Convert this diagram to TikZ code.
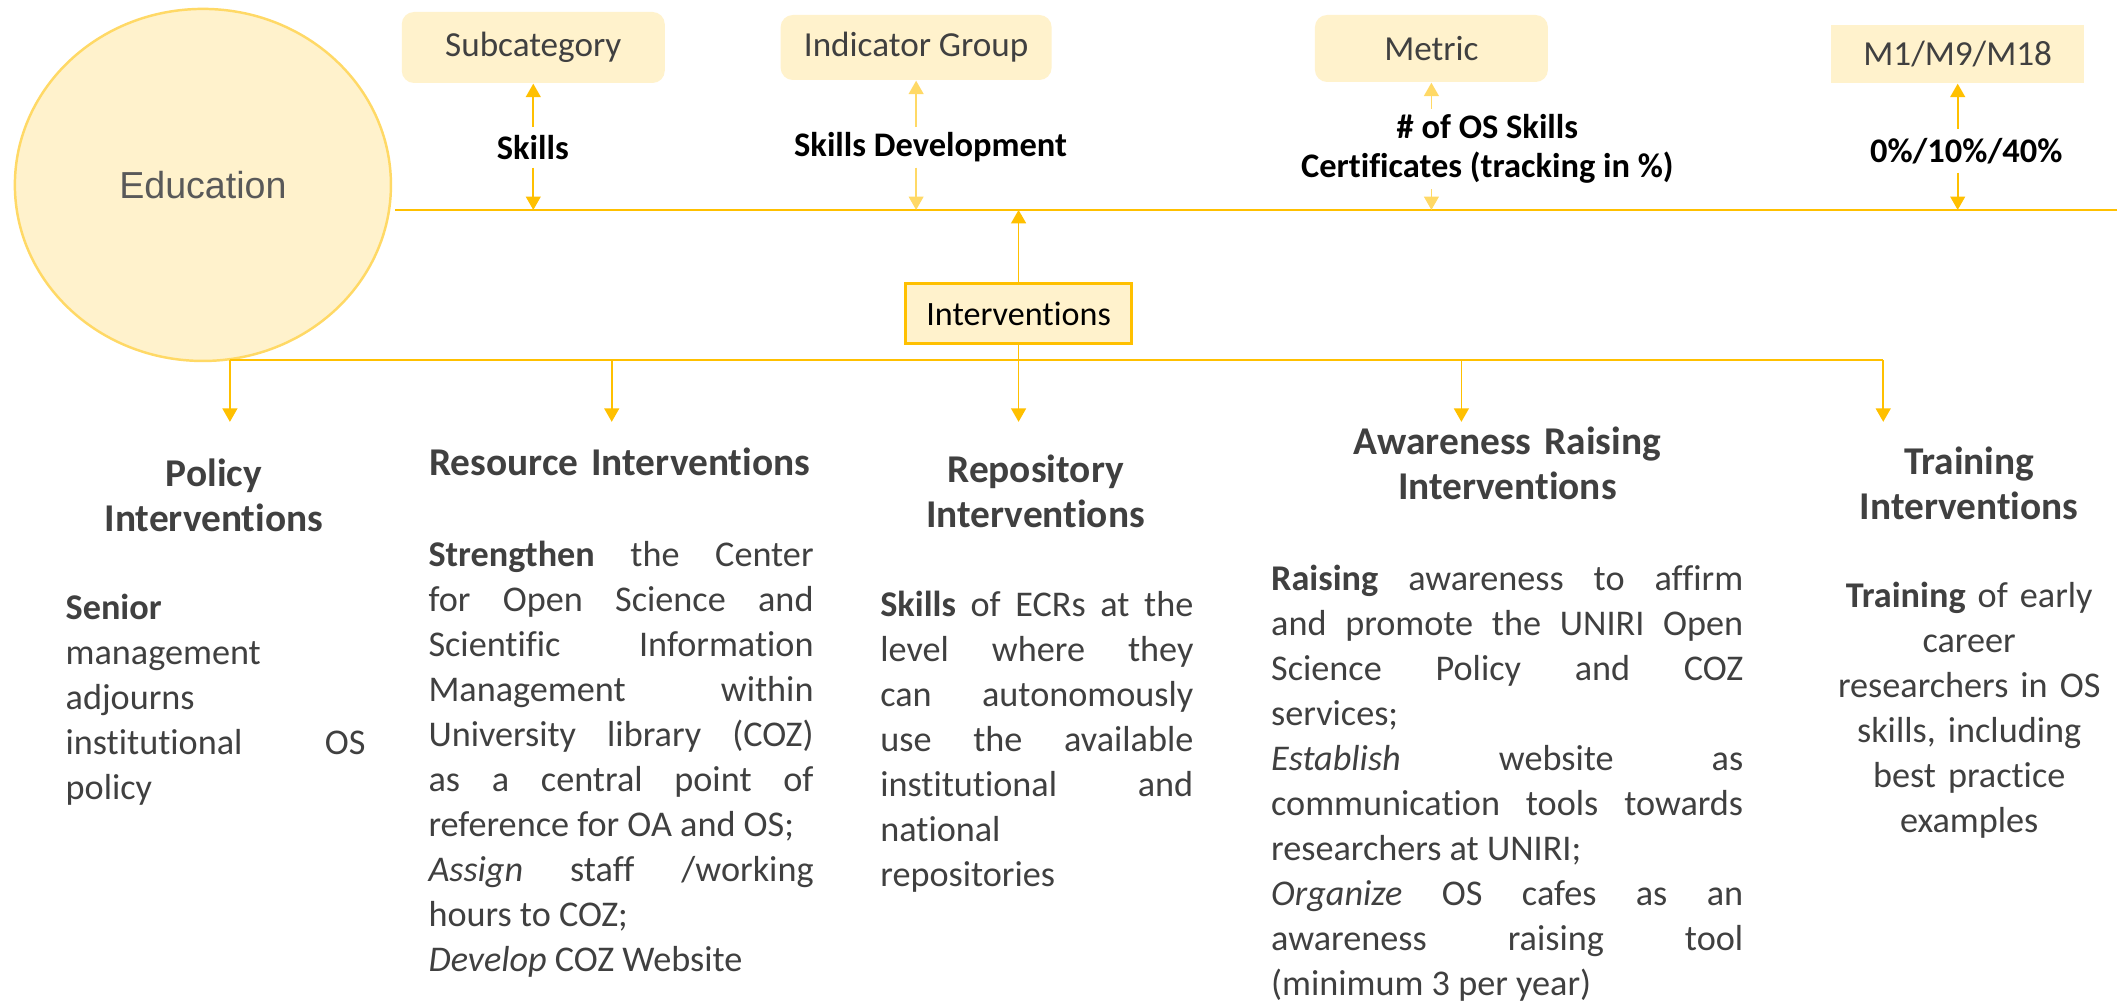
\documentclass[tikz,border=0pt]{standalone}
\usepackage{fontspec}
\setmainfont{Carlito}[Ligatures={NoCommon,NoDiscretionary,NoContextual}]
\newfontfamily\arialfont{Liberation Sans}
\usepackage{tikz}
\usetikzlibrary{arrows.meta}
\usetikzlibrary{shapes.geometric}
\definecolor{cream}{RGB}{255, 242, 204}
\definecolor{amber}{RGB}{255, 192, 0}
\definecolor{sand}{RGB}{255, 217, 102}
\definecolor{ink}{RGB}{64, 64, 64}
\definecolor{slate}{RGB}{89, 89, 89}

\begin{document}
\begin{tikzpicture}[x=0.01cm, y=-0.01cm,
    >={Triangle[length=3.8pt,width=4.2pt]},
    topbox/.style={fill=cream, rounded corners=3.5pt, inner sep=0pt, text=ink, font=\fontsize{10}{12}\selectfont},
    kpi/.style={font=\bfseries\fontsize{9.8}{11.1}\selectfont, inner sep=0pt, minimum height=0.39cm, align=center},
    head/.style={font=\bfseries\fontsize{11.2}{12.8}\selectfont, text=ink, inner sep=0pt, anchor=base, align=center},
    body/.style={font=\fontsize{10.3}{12.8}\selectfont, text=ink, inner sep=0pt, anchor=base west, align=justify},
    link/.style={amber, line width=0.5pt},
    softlink/.style={sand, line width=0.5pt}]
    \fill[white] (0,0) rectangle (2118,1002);

    % category and the header row
    \node[ellipse, fill=cream, draw=sand, line width=0.7pt, minimum width=3.76cm, minimum height=3.52cm,
          text=slate, font=\arialfont\fontsize{10.7}{12}\selectfont] (educ) at (203,185) {Education};
    \node[topbox, minimum width=2.63cm, minimum height=0.71cm] (subcat) at (533.5,47.5) {Subcategory};
    \node[topbox, minimum width=2.71cm, minimum height=0.65cm] (indgrp) at (916.5,47.5) {Indicator Group};
    \node[topbox, minimum width=2.33cm, minimum height=0.67cm] (metric) at (1432,48.5) {Metric};
    \node[topbox, rounded corners=0pt, minimum width=2.53cm, minimum height=0.58cm] (mstone) at (1958.5,54) {M1/M9/M18};

    \node[kpi] (skl) at (533,147.5) {Skills};
    \node[kpi] (skdev) at (931,147.5) {Skills Development};
    \node[kpi, minimum height=0.79cm] (osc) at (1488,149) {\# of OS Skills\\Certificates (tracking in \%)};
    \node[kpi, minimum height=0.42cm] (pct) at (1967,151) {0\%/10\%/40\%};

    \coordinate (mainL) at (395,210);
    \coordinate (mainR) at (2118,210);
    \draw[link] (mainL) -- (mainR);

    \draw[link,->]     (subcat.south |- skl.north)   -- (subcat.south);
    \draw[link,->]     (subcat.south |- skl.south)   -- (subcat.south |- mainL);
    \draw[softlink,->] (indgrp.south |- skdev.north) -- (indgrp.south);
    \draw[softlink,->] (indgrp.south |- skdev.south) -- (indgrp.south |- mainL);
    \draw[softlink,->] (metric.south |- osc.north)   -- (metric.south);
    \draw[softlink,->] (metric.south |- osc.south)   -- (metric.south |- mainL);
    \draw[link,->]     (mstone.south |- pct.north)   -- (mstone.south);
    \draw[link,->]     (mstone.south |- pct.south)   -- (mstone.south |- mainL);

    % interventions and the bus below
    \node[fill=cream, draw=amber, line width=0.8pt, inner sep=0pt, minimum width=2.26cm, minimum height=0.60cm,
          font=\fontsize{9.7}{11}\selectfont] (intv) at (1019,314) {Interventions};
    \draw[link,->] (intv.north) -- (intv.north |- mainL);

    \coordinate (busL) at (230,360);
    \coordinate (busR) at (1884,360);
    \draw[link] (busL) -- (busR);
    \draw[link] (intv.south) -- (intv.south |- busL);
    \foreach \x [count=\i] in {230,612,1019,1462,1884}
        \coordinate (drop\i) at (\x,422);
    \foreach \i in {1,...,5}
        \draw[link,->] (drop\i |- busL) -- (drop\i);

    \node[head, text width=3.0cm] (polHead) at (214,487)  {Policy\\Interventions};
    \node[head, text width=4.2cm] (resHead) at (620,476)  {Resource Interventions};
    \node[head, text width=3.2cm] (repHead) at (1036,483) {Repository\\Interventions};
    \node[head, text width=4.2cm] (awaHead) at (1508,455) {Awareness Raising\\Interventions};
    \node[head, text width=2.8cm] (traHead) at (1970,475) {Training\\Interventions};

    \node[body, text width=3.00cm] (polTxt) at (65,620)
        {\textbf{Senior}\newline management\newline adjourns\newline institutional OS\linebreak policy};
    \node[body, text width=3.85cm] (resTxt) at (428,567)
        {\textbf{Strengthen} the Center\linebreak for Open Science and\linebreak Scientific Information\linebreak
         Management within\linebreak University library (COZ)\linebreak as a central point of\linebreak
         reference for OA and OS;\newline \textit{Assign} staff /working\linebreak hours to COZ;\newline
         \textit{Develop} COZ Website};
    \node[body, text width=3.13cm] (repTxt) at (880,617)
        {\textbf{Skills} of ECRs at the\linebreak level where they\linebreak can autonomously\linebreak
         use the available\linebreak institutional and\linebreak national\newline repositories};
    \node[body, text width=4.72cm] (awaTxt) at (1271,591)
        {\textbf{Raising} awareness to affirm\linebreak and promote the UNIRI Open\linebreak Science Policy and COZ\linebreak
         services;\newline \textit{Establish} website as\linebreak communication tools towards\linebreak
         researchers at UNIRI;\newline \textit{Organize} OS cafes as an\linebreak awareness raising tool\linebreak
         (minimum 3 per year)};
    \node[body, text width=2.80cm, align=center, anchor=base] (traTxt) at (1970,608)
        {\textbf{Training} of early\\career\\researchers in OS\\skills, including\\best practice\\examples};
\end{tikzpicture}
\end{document}
